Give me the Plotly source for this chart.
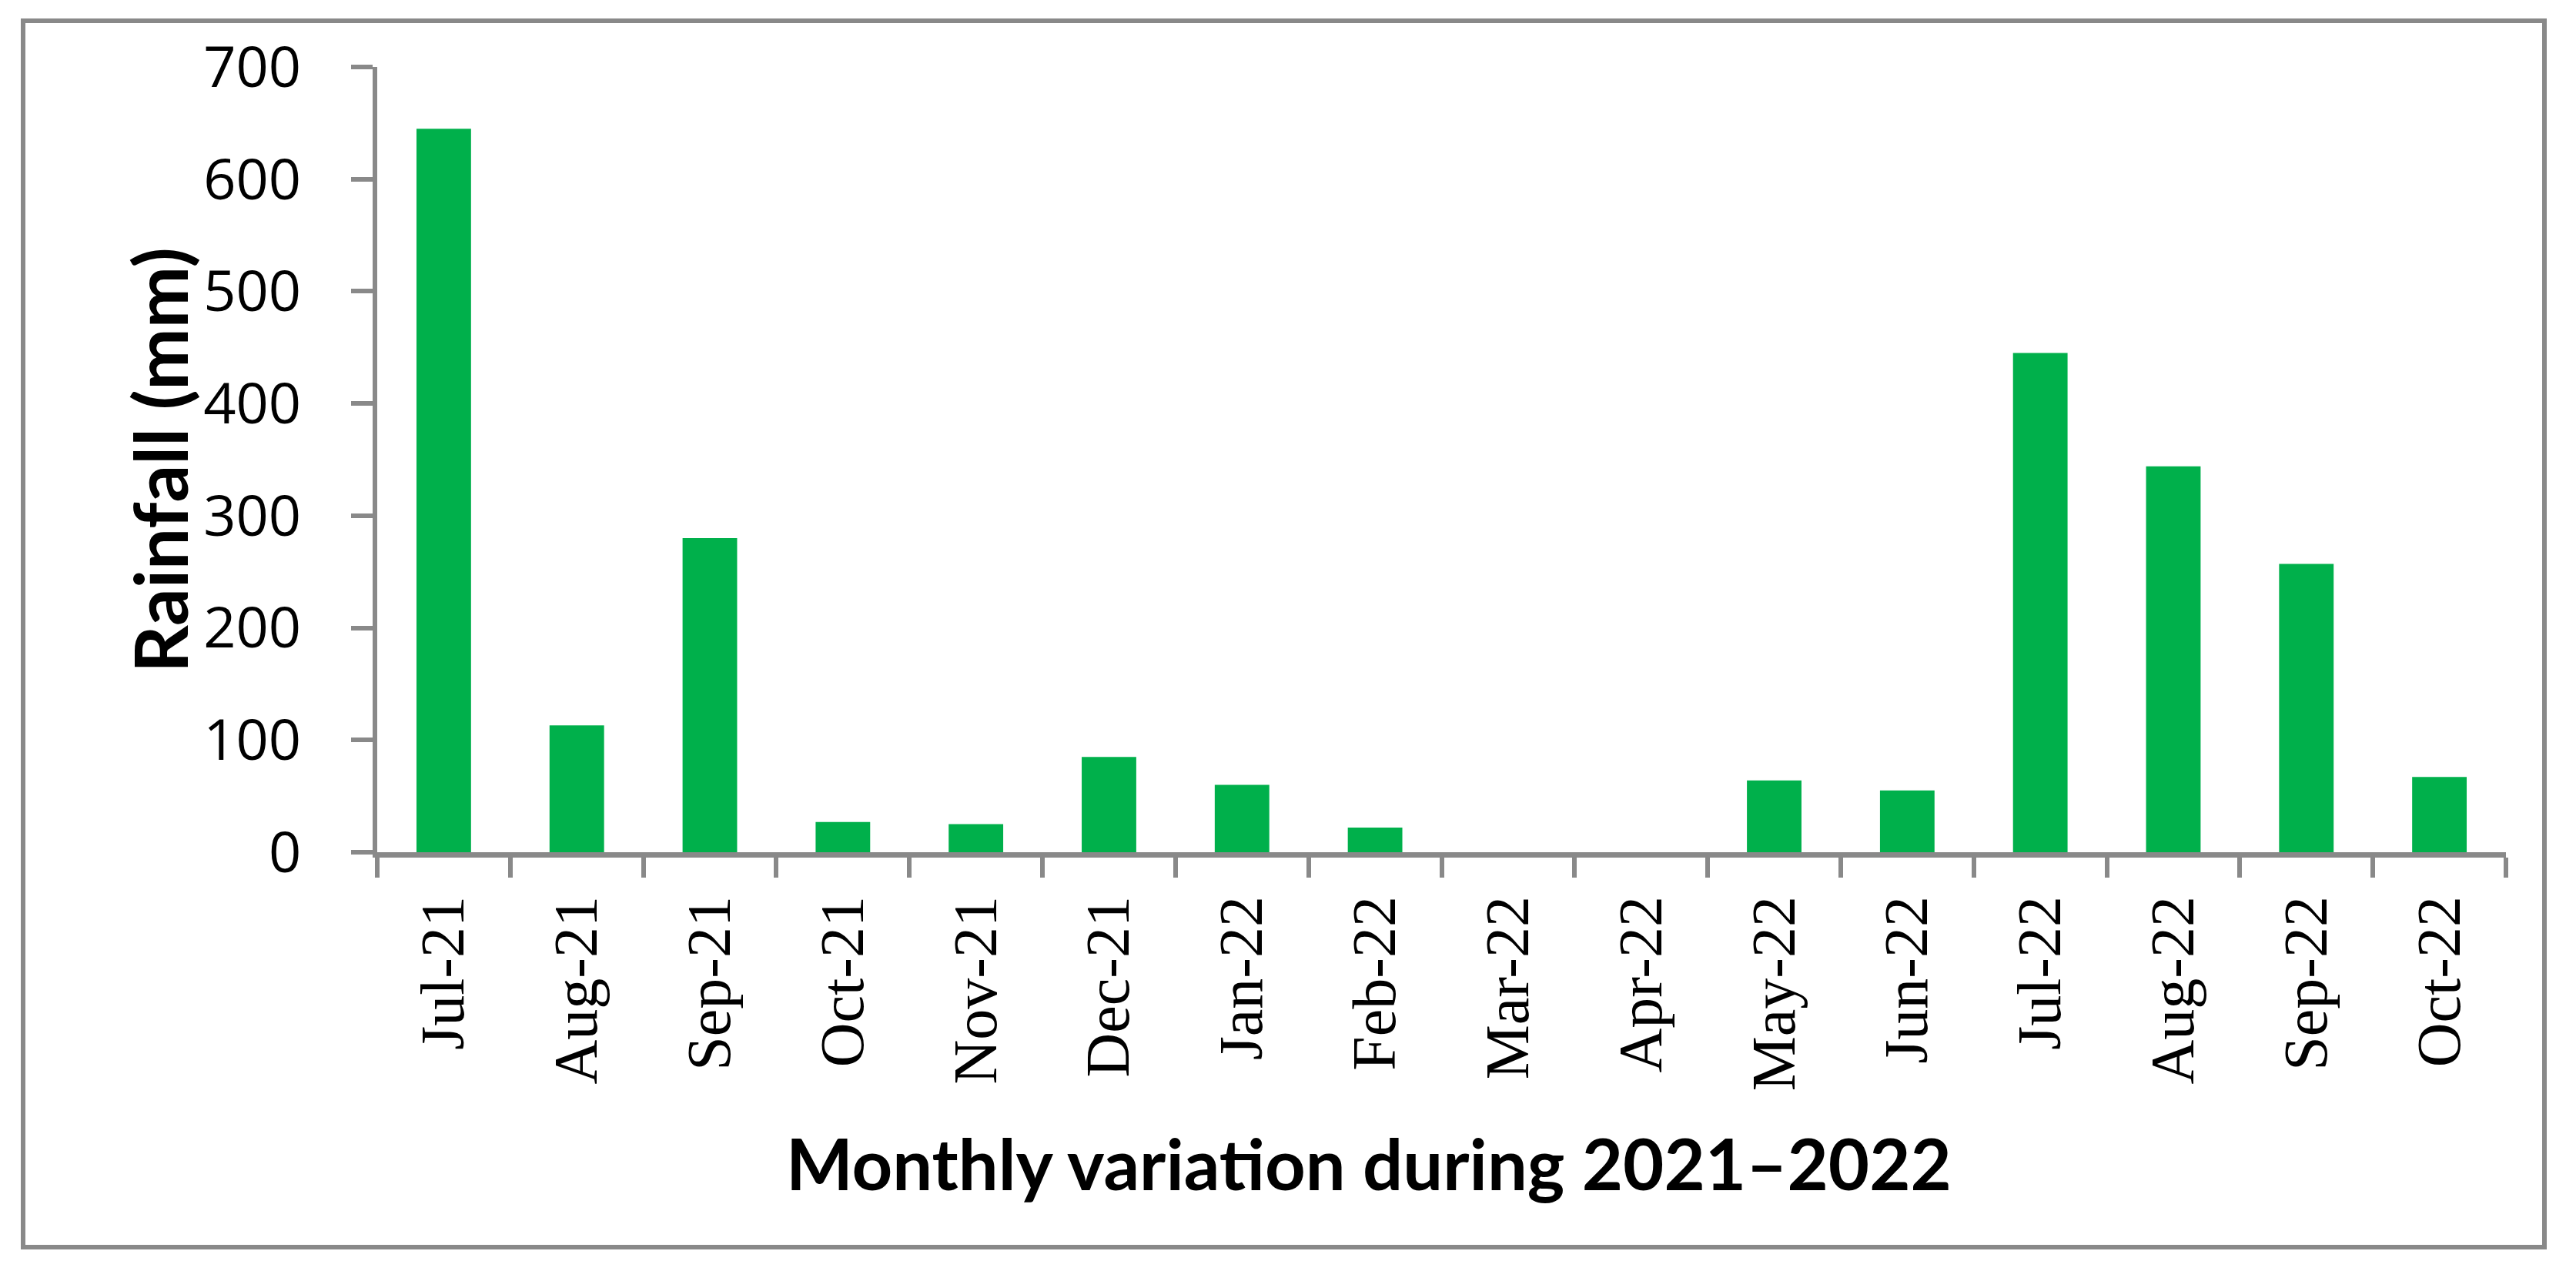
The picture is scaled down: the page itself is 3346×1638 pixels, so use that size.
import plotly.graph_objects as go

months = ["Jul-21", "Aug-21", "Sep-21", "Oct-21", "Nov-21", "Dec-21", "Jan-22", "Feb-22",
          "Mar-22", "Apr-22", "May-22", "Jun-22", "Jul-22", "Aug-22", "Sep-22", "Oct-22"]
rainfall = [645, 113, 280, 27, 25, 85, 60, 22, 0, 0, 64, 55, 445, 344, 257, 67]
y_ticks = [0, 100, 200, 300, 400, 500, 600, 700]

W, H = 3346, 1638
L, R, T, B = 482, 3346 - 3247, 79, 1638 - 1099
PW, PH = W - L - R, H - T - B
GRAY = "#898989"


def px(x):
    return (x - L) / PW


def py(y):
    return (H - B - y) / PH


fig = go.Figure(go.Bar(x=months, y=rainfall, marker=dict(color="#00B04B", line=dict(width=0)),
                       hoverinfo="x+y"))

fig.update_layout(
    width=W, height=H,
    margin=dict(l=L, r=R, t=T, b=B, pad=0),
    paper_bgcolor="white", plot_bgcolor="white",
    bargap=0.59,
    showlegend=False,
    xaxis=dict(
        type="category", tickson="boundaries", ticks="outside", ticklen=26, tickwidth=6,
        tickcolor=GRAY, showline=True, linecolor=GRAY, linewidth=7, showgrid=False,
        tickangle=-90, ticklabelstandoff=18,
        tickfont=dict(family="Liberation Serif", size=80, color="black"),
    ),
    yaxis=dict(
        range=[0, 700], tickvals=y_ticks, ticks="outside", ticklen=28, tickwidth=6,
        tickcolor=GRAY, showline=True, linecolor=GRAY, linewidth=6, showgrid=False,
        zeroline=False, ticklabelstandoff=50,
        tickfont=dict(family="Open Sans", size=74, color="black"),
    ),
    annotations=[
        dict(text="<b>Monthly variation during 2021–2022</b>", xref="paper", yref="paper",
             x=px(1770), y=py(1502), xanchor="center", yanchor="middle", showarrow=False,
             font=dict(family="Lato", size=92, color="black")),
        dict(text="<b>Rainfall (mm)</b>", xref="paper", yref="paper",
             x=px(198), y=py(590), xanchor="center", yanchor="middle", showarrow=False,
             textangle=-90, font=dict(family="Lato", size=96, color="black")),
    ],
    shapes=[
        dict(type="rect", xref="paper", yref="paper", x0=px(22), x1=px(3297),
             y0=py(1612), y1=py(19), line=dict(color=GRAY, width=6), fillcolor="rgba(0,0,0,0)",
             layer="below"),
    ],
)

fig.write_html("out.html")
